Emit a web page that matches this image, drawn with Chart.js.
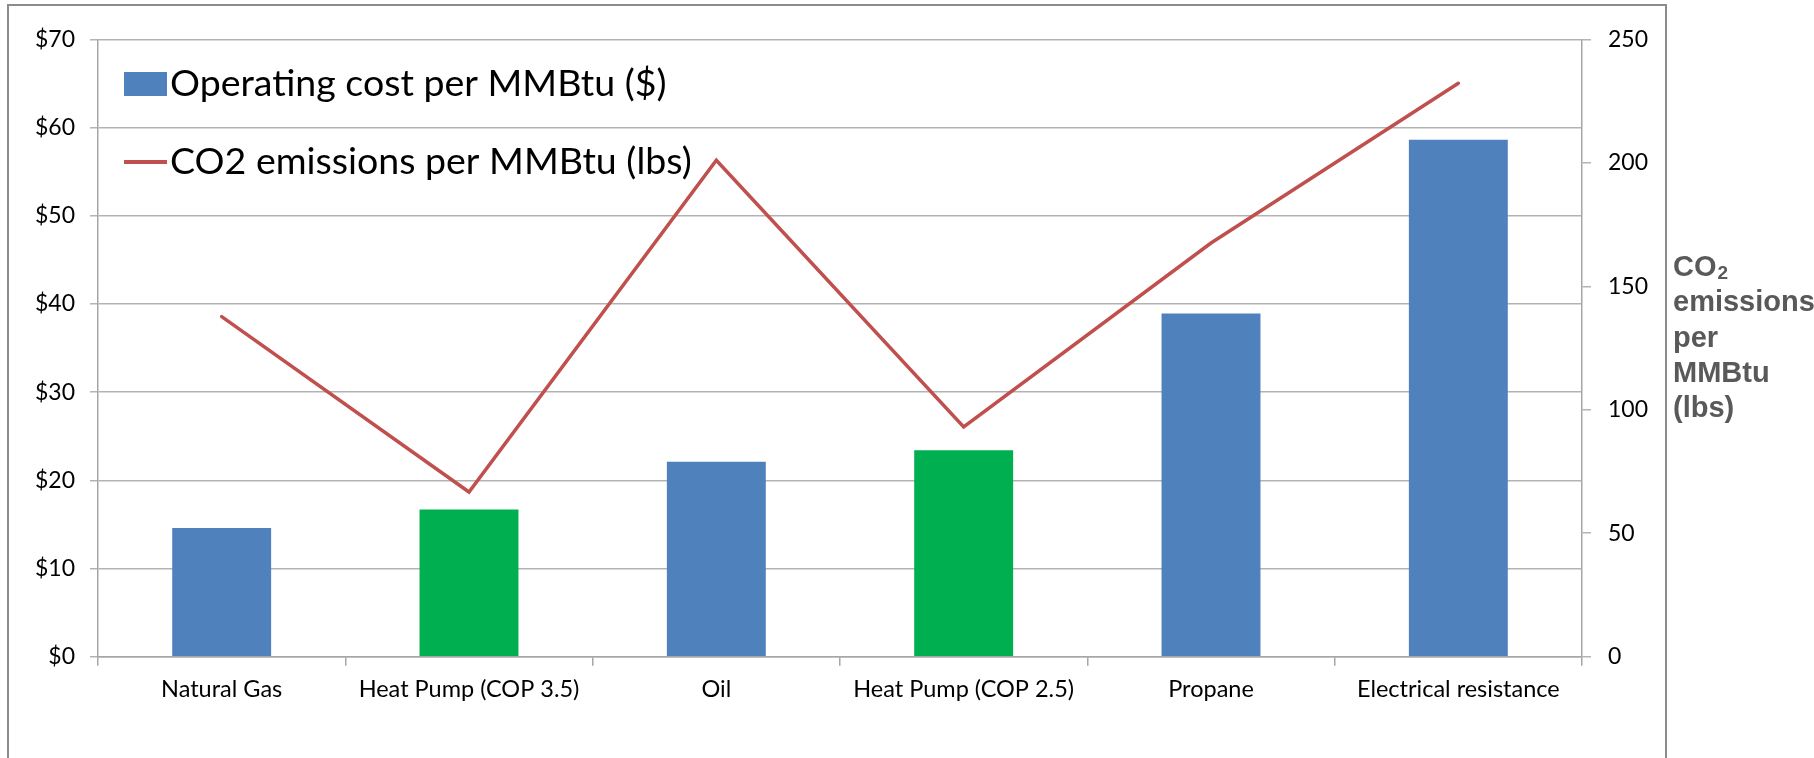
<!DOCTYPE html>
<html>
<head>
<meta charset="utf-8">
<script src="https://cdn.jsdelivr.net/npm/chart.js@4.4.1/dist/chart.umd.min.js"></script>
<style>
  html, body { margin: 0; padding: 0; background: #ffffff; overflow: hidden; }
  #wrap { position: relative; width: 1814px; height: 758px; }
  #frame {
    position: absolute; left: 7px; top: 4px; width: 1656px; height: 800px;
    border: 2px solid #8c8c8c; pointer-events: none;
  }
  canvas { position: absolute; left: 0; top: 0; }
</style>
</head>
<body>
<div id="wrap">
  <canvas id="chart" width="1814" height="758"></canvas>
  <div id="frame"></div>
</div>
<script>
// Heating options compared
const categories = [
  'Natural Gas',
  'Heat Pump (COP 3.5)',
  'Oil',
  'Heat Pump (COP 2.5)',
  'Propane',
  'Electrical resistance'
];
// Operating cost per MMBtu, dollars
const operatingCost = [14.6, 16.7, 22.1, 23.4, 38.9, 58.6];
// CO2 emissions per MMBtu, pounds
const co2Emissions = [137.7, 66.7, 201, 93, 167.5, 232.2];
// Tick values for both axes
const costTicks = [0, 10, 20, 30, 40, 50, 60, 70];
const co2Ticks = [0, 50, 100, 150, 200, 250];
const costLabel = 'Operating cost per MMBtu ($)';
const co2Label = 'CO2 emissions per MMBtu (lbs)';
const rightTitleLines = ['CO|2', 'emissions', 'per', 'MMBtu', '(lbs)'];

const BLUE = '#4F81BD';
const GREEN = '#00B050';
const RED = '#C0504D';
const barColors = categories.map(c => c.startsWith('Heat Pump') ? GREEN : BLUE);

const TICK_FONT = { family: 'Lato', size: 23 };
const GRID = '#b3b3b3';

// Legend drawn inside the plot area, stacked vertically
const insideLegend = {
  id: 'insideLegend',
  afterDatasetsDraw(chart) {
    const ctx = chart.ctx;
    const ds = chart.data.datasets;
    const bar = ds.find(d => d.type === 'bar');
    const line = ds.find(d => d.type === 'line');
    ctx.save();
    ctx.font = '37.5px Lato';
    ctx.textBaseline = 'middle';
    // bar key
    ctx.fillStyle = BLUE;
    ctx.fillRect(124, 72, 43, 24);
    ctx.fillStyle = '#000';
    ctx.fillText(bar.label, 170, 84);
    // line key
    ctx.strokeStyle = line.borderColor;
    ctx.lineWidth = 4;
    ctx.beginPath();
    ctx.moveTo(124, 162);
    ctx.lineTo(167, 162);
    ctx.stroke();
    ctx.fillText(line.label, 170, 162);
    ctx.restore();
  }
};

// Horizontal title beside the right axis
const rightTitle = {
  id: 'rightTitle',
  afterDraw(chart) {
    const ctx = chart.ctx;
    ctx.save();
    ctx.fillStyle = '#595959';
    ctx.textBaseline = 'alphabetic';
    const x = 1673;
    let y = 276;
    rightTitleLines.forEach(t => {
      ctx.font = 'bold 29px "Liberation Sans"';
      if (t.includes('|')) {
        const [main, sub] = t.split('|');
        ctx.fillText(main, x, y);
        const w = ctx.measureText(main).width;
        ctx.font = 'bold 19px "Liberation Sans"';
        ctx.fillText(sub, x + w + 1, y + 3);
      } else {
        ctx.fillText(t, x, y);
      }
      y += 35.3;
    });
    ctx.restore();
  }
};

new Chart(document.getElementById('chart'), {
  data: {
    labels: categories,
    datasets: [
      {
        type: 'line',
        label: co2Label,
        data: co2Emissions,
        yAxisID: 'y1',
        borderColor: RED,
        backgroundColor: RED,
        borderWidth: 3.5,
        pointRadius: 0,
        tension: 0,
        borderCapStyle: 'round',
        borderJoinStyle: 'miter',
        order: 0
      },
      {
        type: 'bar',
        label: costLabel,
        data: operatingCost,
        yAxisID: 'y',
        backgroundColor: barColors,
        barPercentage: 0.4,
        categoryPercentage: 1.0,
        order: 1
      }
    ]
  },
  options: {
    responsive: false,
    animation: false,
    events: [],
    layout: { padding: { top: 39.3, left: 0, right: 0, bottom: 0 } },
    plugins: {
      legend: { display: false },
      tooltip: { enabled: false }
    },
    scales: {
      x: {
        offset: true,
        grid: {
          offset: true,
          drawOnChartArea: false,
          drawTicks: true,
          tickLength: 9,
          color: '#a6a6a6',
          lineWidth: 1.5
        },
        border: { display: true, color: '#a6a6a6', width: 1.5 },
        ticks: { font: { family: 'Lato', size: 23.5 }, color: '#000', padding: 10, maxRotation: 0 },
        afterFit(s) { s.height = 101.3; }
      },
      y: {
        position: 'left',
        min: 0,
        max: 70,
        afterBuildTicks(s) { s.ticks = costTicks.map(v => ({ value: v })); },
        grid: { color: GRID, lineWidth: 1.5, tickLength: 8 },
        border: { display: true, color: '#a6a6a6', width: 1.5 },
        ticks: {
          font: TICK_FONT, color: '#000', padding: 15,
          callback: v => '$' + v
        },
        afterFit(s) { s.width = 98; }
      },
      y1: {
        position: 'right',
        min: 0,
        max: 250,
        afterBuildTicks(s) { s.ticks = co2Ticks.map(v => ({ value: v })); },
        grid: { drawOnChartArea: false, color: GRID, lineWidth: 1.5, tickLength: 9 },
        border: { display: true, color: '#a6a6a6', width: 1.5 },
        ticks: { font: TICK_FONT, color: '#000', padding: 17 },
        afterFit(s) { s.width = 232; }
      }
    }
  },
  plugins: [insideLegend, rightTitle]
});
</script>
</body>
</html>
